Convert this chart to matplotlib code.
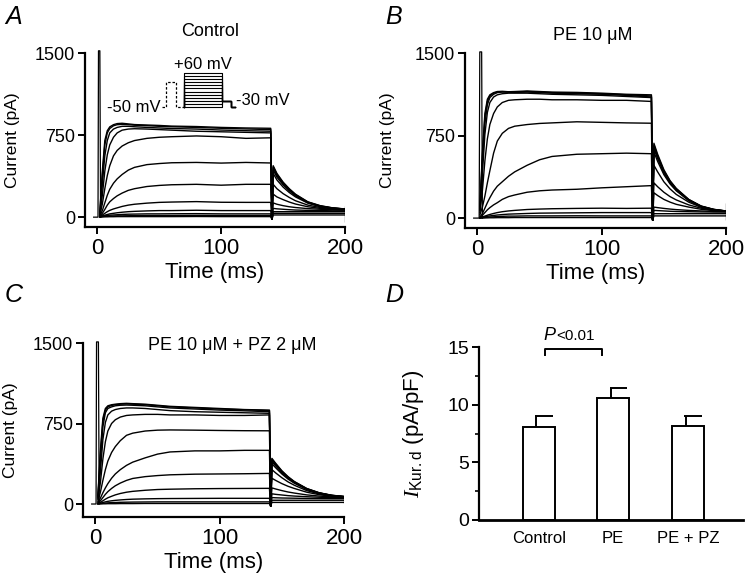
import numpy as np
import matplotlib.pyplot as plt
from matplotlib.ticker import MultipleLocator

plt.rcParams['font.family'] = ['Liberation Sans', 'DejaVu Sans']
plt.rcParams['mathtext.fontset'] = 'custom'
plt.rcParams['mathtext.it'] = 'Liberation Serif:italic'
plt.rcParams['mathtext.rm'] = 'Liberation Sans'

# sample times of the current traces (ms)
t_step = [2, 4, 6, 8, 10, 13, 16, 20, 25, 30, 40, 50, 60, 80, 100, 120, 140]
t_tail = [142, 145, 150, 155, 160, 170, 180, 190, 200]
t_gap = 141

# --- A: Control (pA) ---
ctrl_step = [
    [50, 420, 700, 790, 825, 845, 855, 858, 852, 846, 842, 838, 832, 828, 820, 815, 812],
    [40, 380, 660, 770, 810, 835, 845, 848, 845, 840, 836, 830, 826, 820, 812, 806, 800],
    [30, 300, 560, 700, 770, 805, 820, 830, 830, 826, 820, 815, 810, 805, 796, 790, 785],
    [25, 200, 420, 570, 660, 730, 770, 795, 805, 808, 805, 800, 795, 785, 780, 775, 770],
    [20, 120, 260, 380, 470, 560, 610, 650, 680, 700, 720, 730, 735, 742, 735, 720, 725],
    [15, 60, 130, 200, 255, 310, 350, 390, 430, 455, 480, 490, 497, 500, 494, 500, 495],
    [10, 35, 70, 110, 140, 170, 195, 220, 245, 260, 280, 290, 296, 300, 292, 300, 300],
    [8, 20, 35, 50, 62, 75, 85, 98, 110, 118, 128, 135, 138, 142, 136, 135, 135],
    [5, 12, 18, 24, 30, 35, 40, 45, 50, 53, 57, 60, 60, 63, 60, 60, 60],
    [3, 8, 12, 15, 18, 20, 22, 25, 27, 28, 30, 30, 31, 32, 30, 30, 30],
    [2, 5, 7, 8, 10, 10, 12, 12, 13, 14, 15, 15, 15, 16, 15, 15, 15],
    [0, 2, 3, 3, 4, 4, 5, 5, 5, 5, 5, 5, 5, 6, 5, 5, 5],
]
ctrl_tail = [
    [470, 400, 320, 260, 210, 140, 105, 85, 75],
    [460, 390, 315, 255, 205, 138, 103, 84, 74],
    [450, 380, 305, 248, 200, 135, 100, 83, 74],
    [430, 365, 295, 240, 195, 132, 98, 82, 73],
    [400, 340, 275, 225, 185, 128, 96, 80, 72],
    [300, 260, 215, 180, 150, 110, 88, 76, 70],
    [210, 185, 160, 138, 120, 95, 80, 72, 68],
    [130, 118, 105, 95, 88, 78, 72, 68, 65],
    [80, 76, 72, 68, 65, 62, 60, 58, 58],
    [50, 50, 50, 50, 50, 50, 50, 50, 50],
    [35, 35, 35, 35, 35, 35, 35, 35, 35],
    [20, 20, 20, 20, 20, 20, 20, 20, 20],
]

# --- B: PE 10 uM ---
pe_step = [
    [100, 600, 950, 1080, 1120, 1140, 1150, 1152, 1148, 1150, 1155, 1150, 1145, 1142, 1135, 1125, 1120],
    [90, 560, 920, 1060, 1110, 1135, 1145, 1148, 1145, 1145, 1150, 1145, 1140, 1135, 1130, 1120, 1110],
    [80, 500, 860, 1030, 1095, 1125, 1140, 1145, 1145, 1142, 1145, 1140, 1135, 1130, 1125, 1115, 1100],
    [70, 400, 760, 960, 1050, 1100, 1120, 1130, 1135, 1135, 1135, 1130, 1125, 1120, 1115, 1105, 1095],
    [50, 250, 520, 720, 850, 950, 1010, 1050, 1070, 1075, 1080, 1080, 1075, 1075, 1070, 1070, 1060],
    [30, 100, 200, 320, 430, 590, 700, 770, 815, 835, 850, 860, 865, 875, 870, 865, 862],
    [10, 40, 90, 140, 185, 245, 290, 330, 380, 420, 480, 530, 560, 580, 585, 590, 585],
    [5, 25, 50, 75, 95, 120, 140, 170, 195, 210, 235, 248, 255, 262, 275, 285, 295],
    [3, 10, 18, 26, 33, 42, 50, 58, 65, 70, 78, 82, 85, 88, 90, 88, 90],
    [2, 8, 12, 16, 20, 24, 28, 32, 36, 38, 42, 45, 46, 48, 50, 50, 50],
    [0, 3, 5, 8, 10, 12, 14, 16, 18, 18, 20, 20, 20, 21, 20, 20, 20],
    [0, 1, 2, 2, 3, 3, 4, 4, 4, 5, 5, 5, 5, 5, 5, 5, 5],
]
pe_tail = [
    [680, 580, 440, 340, 270, 170, 110, 80, 65],
    [665, 565, 430, 335, 265, 168, 108, 79, 64],
    [650, 555, 420, 328, 260, 165, 106, 78, 64],
    [630, 540, 410, 320, 255, 162, 105, 77, 63],
    [600, 515, 395, 310, 248, 158, 103, 76, 62],
    [480, 420, 330, 265, 215, 145, 98, 74, 61],
    [320, 285, 235, 195, 165, 120, 90, 70, 60],
    [230, 205, 170, 145, 125, 100, 80, 68, 60],
    [100, 95, 88, 82, 77, 70, 65, 60, 58],
    [70, 68, 65, 62, 60, 58, 56, 55, 55],
    [40, 40, 40, 40, 40, 40, 40, 40, 40],
    [20, 20, 20, 20, 20, 20, 20, 20, 20],
]

# --- C: PE 10 uM + PZ 2 uM ---
pz_step = [
    [80, 500, 800, 890, 915, 925, 930, 935, 938, 935, 930, 920, 910, 900, 890, 880, 875],
    [70, 460, 770, 875, 905, 918, 925, 930, 932, 930, 925, 915, 905, 895, 885, 878, 870],
    [60, 400, 720, 850, 890, 905, 915, 920, 922, 920, 915, 905, 895, 885, 875, 868, 860],
    [50, 300, 600, 760, 830, 865, 880, 890, 895, 895, 890, 880, 870, 860, 855, 850, 845],
    [40, 200, 420, 580, 680, 750, 785, 810, 825, 830, 835, 835, 830, 830, 825, 825, 830],
    [25, 110, 220, 320, 400, 480, 535, 590, 640, 660, 680, 688, 690, 688, 685, 683, 682],
    [15, 55, 105, 150, 190, 240, 280, 320, 360, 390, 430, 465, 485, 495, 495, 500, 500],
    [8, 30, 60, 90, 115, 145, 170, 195, 220, 238, 255, 265, 272, 278, 280, 282, 285],
    [5, 15, 30, 45, 58, 72, 85, 98, 110, 118, 128, 135, 138, 142, 144, 145, 146],
    [3, 8, 14, 20, 25, 30, 34, 38, 42, 45, 48, 50, 51, 52, 53, 53, 53],
    [1, 4, 6, 9, 11, 13, 14, 16, 17, 18, 19, 20, 20, 20, 20, 20, 20],
    [0, 1, 2, 2, 3, 3, 3, 4, 4, 4, 5, 5, 5, 5, 5, 5, 5],
]
pz_tail = [
    [425, 380, 310, 255, 210, 145, 105, 82, 70],
    [418, 373, 305, 250, 207, 143, 104, 81, 70],
    [410, 366, 300, 246, 204, 141, 103, 80, 69],
    [395, 355, 292, 240, 200, 138, 101, 79, 68],
    [375, 338, 280, 232, 194, 135, 99, 78, 67],
    [320, 290, 245, 206, 175, 125, 94, 75, 66],
    [240, 220, 190, 165, 145, 110, 87, 72, 64],
    [150, 140, 125, 112, 102, 85, 74, 66, 62],
    [95, 90, 84, 78, 74, 68, 63, 60, 58],
    [60, 58, 56, 55, 54, 52, 51, 50, 50],
    [35, 35, 35, 35, 35, 35, 35, 35, 35],
    [15, 15, 15, 15, 15, 15, 15, 15, 15],
]

gap_val = -20

# capacitive transients at step onset
spike_t_a = [-3, 0.5, 0.9, 2.0, 2.6]
spike_i_a = [0, 0, 1520, 1520, 0]
spike_t_b = [-3, 1.4, 1.9, 3.4, 4.0]
spike_i_b = [0, 0, 1510, 1510, 0]
spike_t_c = [-3, 0.5, 0.9, 2.4, 3.0]
spike_i_c = [0, 0, 1510, 1510, 0]

# end-of-sweep marks at 200 ms
end_a = [-45, 105]
end_b = [-15, 135]
end_c = [5, 50]

# voltage protocol (inset in A)
prot_t = [0, 10.6, 37, 59, 159, 185, 194]
prot_hold = -50
prot_pre = 30
prot_levels = [-50, -40, -30, -20, -10, 0, 10, 20, 30, 40, 50, 60]
prot_tail = -30

# --- D: summary ---
groups = ['Control', 'PE', 'PE + PZ']
means = [8.08, 10.62, 8.19]
sems = [0.92, 0.86, 0.81]

W, H = 748, 583
fig = plt.figure(figsize=(W / 100, H / 100), dpi=100)


def px_axes(x0, y0, x1, y1):
    return fig.add_axes([x0 / W, 1 - y1 / H, (x1 - x0) / W, (y1 - y0) / H])


def trace_panel(ax, steps, tails, sp_t, sp_i, end_line, ylo):
    for s, tl in zip(steps, tails):
        t = t_step + [t_gap] + t_tail
        y = s + [gap_val] + tl
        ax.plot(t, y, color='black', lw=1.0)
    ax.plot(sp_t, sp_i, color='black', lw=0.9, clip_on=False)
    ax.vlines(200, end_line[0], end_line[1], color='black', lw=0.9)
    ax.set_xlim(-10, 200)
    ax.set_ylim(ylo, 1500)
    ax.set_xticks([0, 100, 200])
    ax.set_yticks([0, 750, 1500])
    for s in ['top', 'right']:
        ax.spines[s].set_visible(False)
    for s in ['left', 'bottom']:
        ax.spines[s].set_linewidth(1.6)
    ax.tick_params(axis='y', labelsize=13, length=5, width=1.4, pad=2)
    ax.tick_params(axis='x', labelsize=16, length=5, width=1.4, pad=3)
    ax.set_xlabel('Time (ms)', fontsize=16)
    ax.xaxis.set_label_coords(0.5, -0.2)
    ax.xaxis.label.set_va('top')
    ax.set_ylabel('Current (pA)', fontsize=12.5)
    ax.yaxis.set_label_coords(-0.25, 0.5)


axA = px_axes(85, 53, 345, 227)
trace_panel(axA, ctrl_step, ctrl_tail, spike_t_a, spike_i_a, end_a, -90)
axB = px_axes(465, 53, 726, 228)
trace_panel(axB, pe_step, pe_tail, spike_t_b, spike_i_b, end_b, -90)
axB.yaxis.set_label_coords(-0.27, 0.5)
axC = px_axes(83, 343, 344, 517)
trace_panel(axC, pz_step, pz_tail, spike_t_c, spike_i_c, end_c, -121)

fig.text(210 / W, 1 - 32 / H, 'Control', fontsize=13, ha='center', va='center')
fig.text(593 / W, 1 - 35 / H, 'PE 10 \u03bcM', fontsize=13, ha='center', va='center')
fig.text(232 / W, 1 - 346 / H, 'PE 10 \u03bcM + PZ 2 \u03bcM', fontsize=13, ha='center', va='center')

# protocol inset
axP = px_axes(160, 70, 242, 110)
axP.set_xlim(-5.3, 213)
axP.set_ylim(-59.7, 69.7)
axP.axis('off')
axP.plot([prot_t[0], prot_t[1], prot_t[1], prot_t[2], prot_t[2], prot_t[3]],
         [prot_hold, prot_hold, prot_pre, prot_pre, prot_hold, prot_hold],
         color='black', lw=0.9, ls=(0, (2, 1.5)))
for v in prot_levels:
    axP.plot([prot_t[3], prot_t[3], prot_t[4], prot_t[4], prot_t[5], prot_t[5], prot_t[6]],
             [prot_hold, v, v, prot_tail, prot_tail, prot_hold, prot_hold],
             color='black', lw=0.8)
axP.text(prot_t[0] - 4, prot_hold, '-50 mV', fontsize=12, ha='right', va='center')
axP.text(108, 62, '+60 mV', fontsize=12, ha='center', va='bottom')
axP.text(prot_t[6] + 4, prot_tail, '-30 mV', fontsize=12, ha='left', va='center')

# D: bar chart
axD = px_axes(479, 347, 743, 520)
x = np.arange(len(groups))
axD.bar(x, means, width=0.43, color='white', edgecolor='black', linewidth=1.4, zorder=2)
for xi, m, e in zip(x, means, sems):
    axD.vlines(xi - 0.03, m, m + e, color='black', lw=1.4)
    axD.hlines(m + e, xi - 0.05, xi + 0.32 * 0.43 + 0.05, color='black', lw=1.4)
axD.set_xlim(-0.8, 2.74)
axD.set_ylim(0, 15)
axD.set_xticks(x)
axD.set_xticklabels(groups)
axD.yaxis.set_major_locator(MultipleLocator(5))
axD.yaxis.set_minor_locator(MultipleLocator(2.5))
for s in ['top', 'right']:
    axD.spines[s].set_visible(False)
axD.spines['left'].set_linewidth(1.6)
axD.spines['bottom'].set_linewidth(2)
axD.tick_params(axis='y', which='major', labelsize=14, length=5, width=1.4, pad=2)
axD.tick_params(axis='y', which='minor', length=3, width=1.2)
axD.tick_params(axis='x', labelsize=12, length=0, pad=8)
axD.set_ylabel(r'$\mathit{I}_{\mathrm{Kur.d}}$ (pA/pF)', fontsize=16)
axD.yaxis.set_label_coords(-0.2, 0.5)

# significance bracket
axD.plot([0.08, 0.08, 0.85, 0.85], [14.3, 14.86, 14.86, 14.3], color='black', lw=1.4, clip_on=False)
axD.text(0.225, 15.65, 'P', fontsize=13, style='italic', ha='right', va='baseline')
axD.text(0.235, 15.65, '<0.01', fontsize=11, ha='left', va='baseline')

# panel letters
for lbl, px, py in [('A', 5, 5), ('B', 385, 5), ('C', 5, 283), ('D', 385, 283)]:
    fig.text(px / W, 1 - py / H, lbl, fontsize=18, style='italic', ha='left', va='top')

fig.savefig('out.png', dpi=100)
